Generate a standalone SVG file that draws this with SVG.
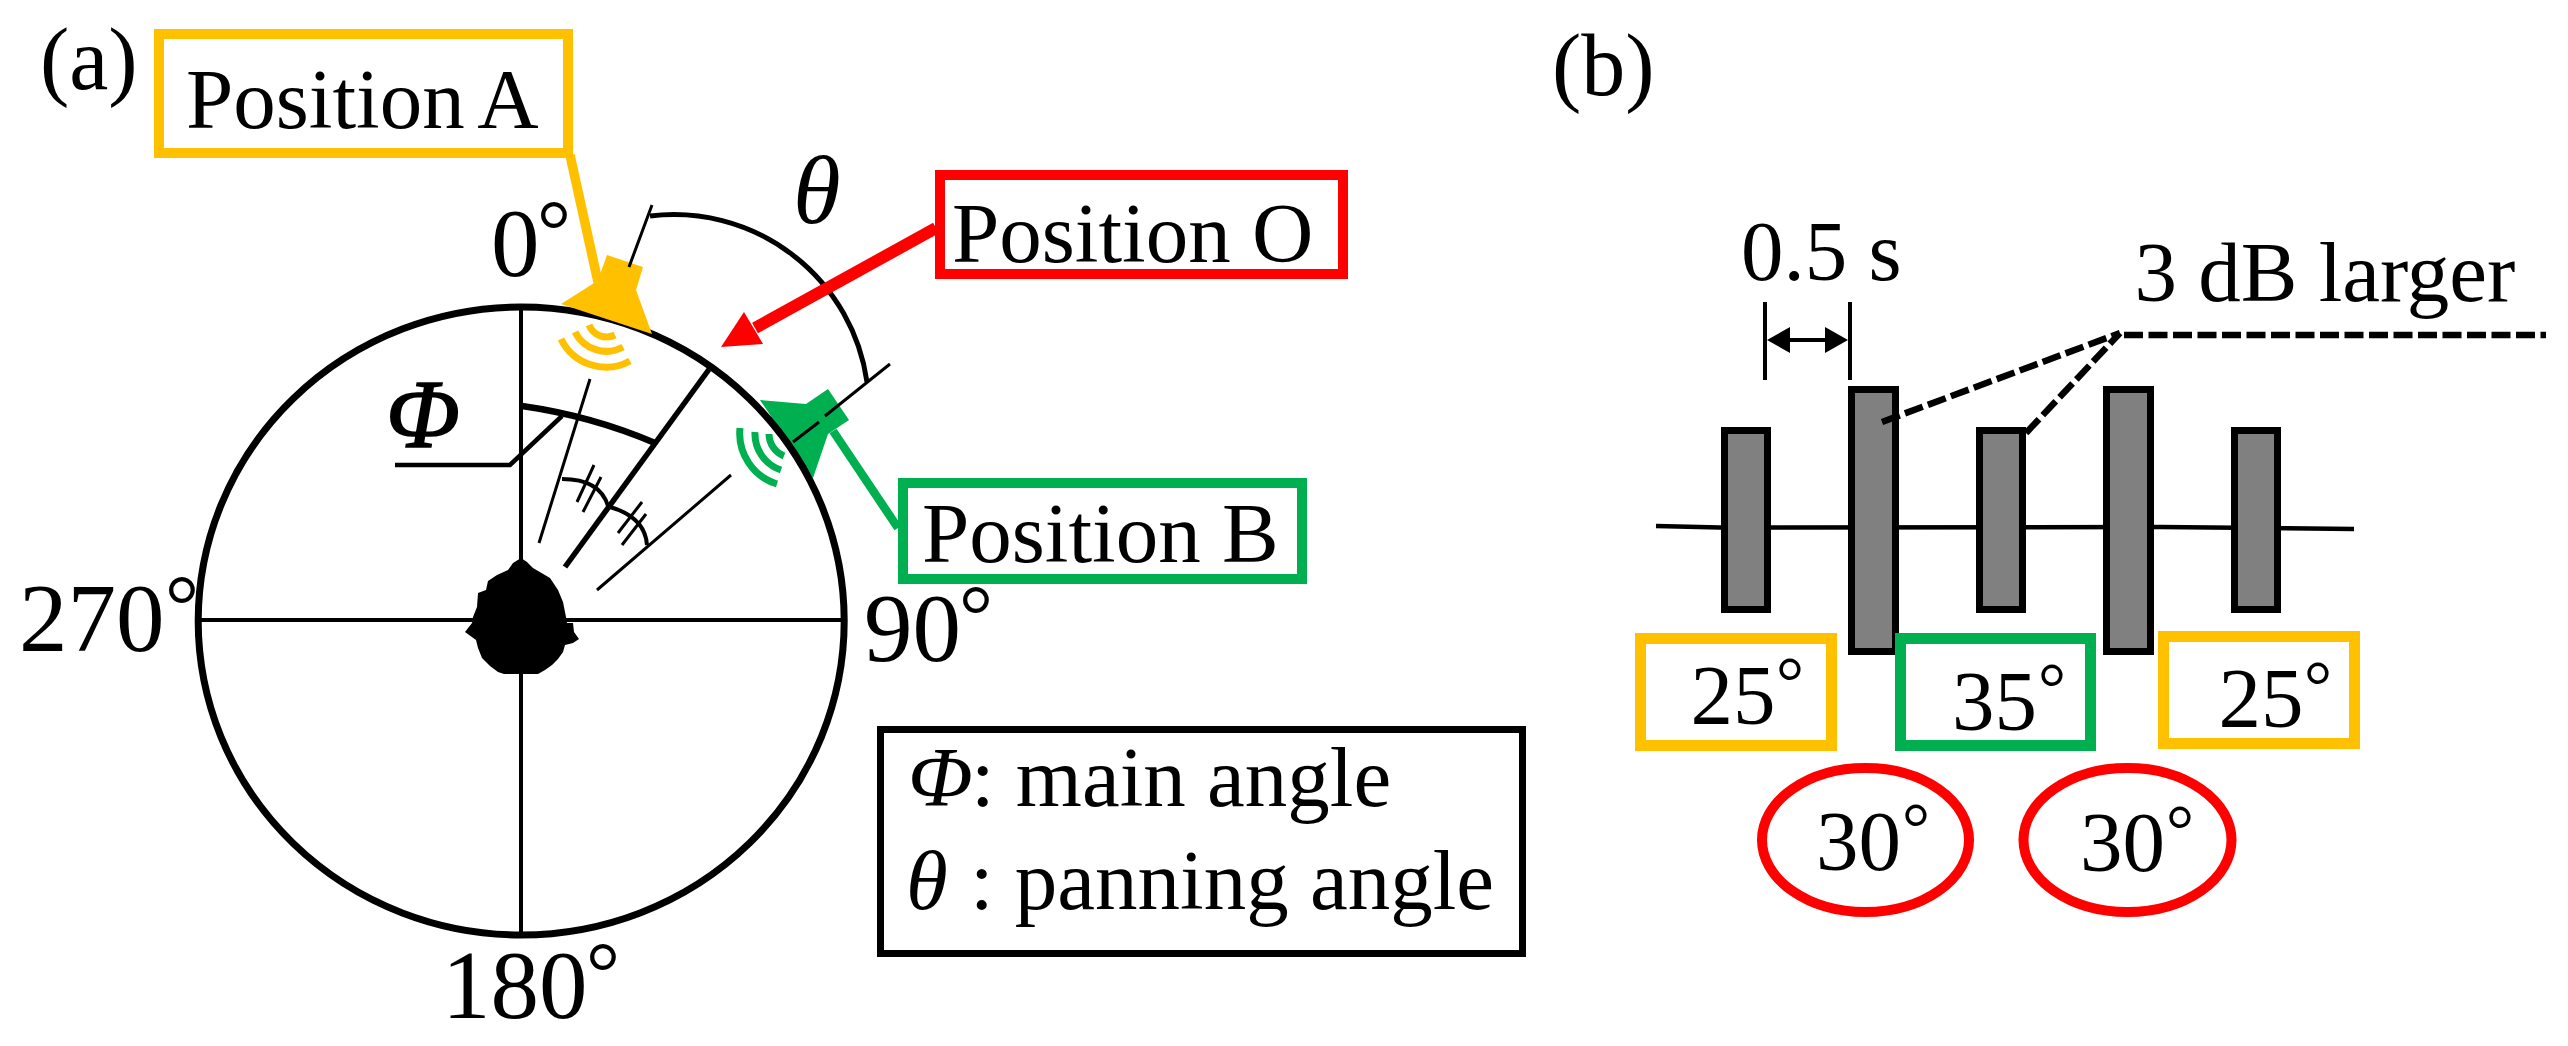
<svg xmlns="http://www.w3.org/2000/svg" width="2568" height="1046" viewBox="0 0 2568 1046">
<style>
text{font-family:"Liberation Serif","Times New Roman",serif;font-size:85px;fill:#000}
.ang{font-size:97px}
.i{font-style:italic}
.deg{font-size:85px}
.degb{font-size:70px}
.box{fill:#fff;stroke-width:10}
.y{stroke:#FFC000}.g{stroke:#00B050}.r{stroke:#FF0000}
.thin{fill:none;stroke:#000;stroke-width:3}
.mid{fill:none;stroke:#000;stroke-width:4}
.thick{fill:none;stroke:#000;stroke-width:5.5}
.dash{fill:none;stroke:#000;stroke-width:6.5;stroke-dasharray:19 5.5}
.wy{fill:none;stroke:#FFC000;stroke-width:7}
.wg{fill:none;stroke:#00B050;stroke-width:7}
.bar{fill:#808080;stroke:#000;stroke-width:7}
</style>
<rect width="2568" height="1046" fill="#fff"/>
<g id="panel-a-label"><text x="40" y="89" style="font-size:88px">(a)</text></g>
<g id="speaker-b">
<polygon points="760,400 806,404 828,389 849,420 834,430 828,434 813,478" fill="#00B050"/>
<path class="wg" d="M740 428A53 53 0 0 0 777 484M755 432A38 38 0 0 0 781 470M769 434A24 24 0 0 0 784 456"/>
</g>
<g id="dial">
<ellipse cx="521.2" cy="621" rx="323" ry="314" fill="none" stroke="#000" stroke-width="7"/>
<path class="mid" d="M198 620H844M521 306V935"/>
<polygon id="head" fill="#000" points="521,558 527,562 533,568 550,578 558,590 563,602 566,617 567,623 573,623 574,632 579,639 573,643 565,645 563,652 558,659 552,665 545,670 538,674 504,674 498,672 490,666 482,658 478,648 476,640 465,632 472,623 473,617 477,607 478,593 486,590 488,581 497,575 508,570 513,563"/>
</g>
<g id="speaker-a">
<polygon points="561,304 591,285 598,280 607,255 643,267 636,290 652,334" fill="#FFC000"/>
<path class="wy" d="M561 339A50 50 0 0 0 630 361M575 332A35 35 0 0 0 623 347M589 325A19 19 0 0 0 615 335"/>
</g>
<g id="connectors">
<path class="thin" d="M652 205L629 267M590 379L539 543M731 475L597 590M890 364L825 416M819 422L793 442"/>
<path class="thin" d="M594 465L577 502M601 477L583 512M642 502L618 533M646 514L622 545"/>
<path class="mid" style="stroke-width:5" d="M650 216A195 195 0 0 1 867 382"/>
<path class="thick" d="M710 368L565 567"/>
<path class="thick" style="stroke-width:6.5" d="M522 406Q592 416 655 443"/>
<path class="mid" style="stroke-width:4.5" d="M395 465H510L562 416"/>
<path class="mid" d="M562 479Q600 479 608 506M610 507Q645 517 647 545"/>
<line x1="570" y1="155" x2="598" y2="282" stroke="#FFC000" stroke-width="9.5"/>
<line x1="898" y1="528" x2="833" y2="431" stroke="#00B050" stroke-width="8.5"/>
<line x1="936" y1="228" x2="755" y2="328" stroke="#FF0000" stroke-width="12"/>
<polygon points="721,347 744,312 763,344" fill="#FF0000"/>
<path class="mid" d="M1765 302V380M1850 302V380M1785 340H1830"/>
<polygon points="1767,340 1790,327 1790,353" fill="#000"/>
<polygon points="1848,340 1825,327 1825,353" fill="#000"/>
<path class="mid" style="stroke-width:4.5" d="M1656 526L1720 527.5L2160 527L2354 529"/>
</g>
<g id="labels-a">
<text class="ang" x="491" y="276">0<tspan class="deg" dx="-2.5" dy="-17.5">°</tspan></text>
<text class="ang" x="19" y="651">270<tspan class="deg" dx="0.5" dy="-17.5">°</tspan></text>
<text class="ang" x="442" y="1018">180<tspan class="deg" dx="-1.5" dy="-17.5">°</tspan></text>
<text class="ang" x="864" y="661">90<tspan class="deg" dx="-2" dy="-17.5">°</tspan></text>
<text class="ang i" x="793" y="223">θ</text>
<text class="i" x="386" y="447" style="font-size:97px;stroke:#000;stroke-width:1.5">Φ</text>
</g>
<g id="position-a"><rect class="box y" x="159" y="34" width="409" height="119"/><text x="186" y="128" word-spacing="-4">Position A</text></g>
<g id="position-o"><rect class="box r" x="940" y="175" width="403" height="99"/><text x="952" y="262">Position O</text></g>
<g id="position-b"><rect class="box g" x="903" y="483" width="399" height="96"/><text x="922" y="562">Position B</text></g>
<g id="legend"><rect x="880.5" y="729.5" width="642" height="224" fill="#fff" stroke="#000" stroke-width="7"/>
<text class="i" x="908" y="806">Φ</text><text x="971" y="806">: main angle</text>
<text class="i" x="906" y="909">θ</text><text x="970" y="909">: panning angle</text></g>
<g id="panel-b-label"><text x="1552" y="95" style="font-size:88px">(b)</text></g>
<g id="bars">
<rect class="bar" x="1724.5" y="430.5" width="43" height="179"/>
<rect class="bar" x="1851.5" y="389.5" width="44" height="262"/>
<rect class="bar" x="1979.5" y="430.5" width="43" height="179"/>
<rect class="bar" x="2106.5" y="389.5" width="44" height="262"/>
<rect class="bar" x="2234.5" y="430.5" width="43" height="179"/>
</g>
<g id="annotation">
<path class="dash" d="M1882 422L2120 333M2026 433L2120 333M2124 335H2546"/>
<text x="1741" y="280">0.5 s</text>
<text x="2134.5" y="301">3 dB larger</text>
</g>
<g id="angle-25-a"><rect class="box y" style="stroke-width:11" x="1640.5" y="638.5" width="191" height="107"/><text x="1690.5" y="724">25<tspan class="degb" dx="0.5" dy="-19">°</tspan></text></g>
<g id="angle-35"><rect class="box g" style="stroke-width:11" x="1900.5" y="638.5" width="190" height="107"/><text x="1952" y="730">35<tspan class="degb" dx="1" dy="-19">°</tspan></text></g>
<g id="angle-25-b"><rect class="box y" style="stroke-width:11" x="2163.5" y="636.5" width="191" height="107"/><text x="2218.5" y="727">25<tspan class="degb" dx="0.5" dy="-18">°</tspan></text></g>
<g id="angle-30-a"><ellipse class="box r" cx="1865.5" cy="840" rx="103.5" ry="72"/><text x="1816" y="870">30<tspan class="degb" dx="1" dy="-19">°</tspan></text></g>
<g id="angle-30-b"><ellipse class="box r" cx="2127.5" cy="840" rx="104" ry="72"/><text x="2080" y="871">30<tspan class="degb" dx="1" dy="-18">°</tspan></text></g>
</svg>
